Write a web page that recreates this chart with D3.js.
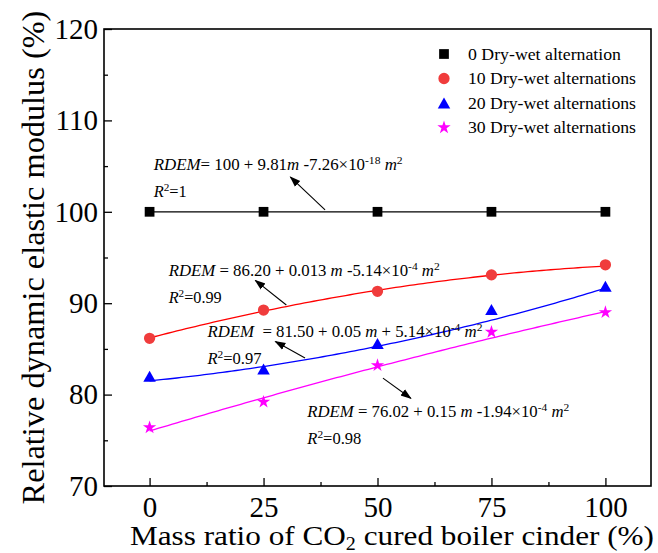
<!DOCTYPE html>
<html>
<head>
<meta charset="utf-8">
<script src="https://cdn.jsdelivr.net/npm/d3@7"></script>
<style>
  body { margin: 0; background: #fff; }
  text { font-family: "Liberation Serif", "Times New Roman", serif; white-space: pre; }
</style>
</head>
<body>
<svg id="chart" width="658" height="553"></svg>
<script>
// Mass ratio of CO2 cured boiler cinder (%)
const massRatio = [0, 25, 50, 75, 100];

// Relative dynamic elastic modulus (%) after each number of dry-wet alternations
const rdem0  = [100, 100, 100, 100, 100];
const rdem10 = [86.16, 89.25, 91.3, 93.1, 94.2];
const rdem20 = [82.0, 82.8, 85.6, 89.3, 91.85];
const rdem30 = [76.4, 79.2, 83.2, 86.85, 89.0];

// Quadratic fits: RDEM = a + b*m + c*m^2
const fit10 = [86.20, 0.13, -5.14e-4];
const fit20 = [81.50, 0.05, 5.14e-4];
const fit30 = [76.02, 0.15, -1.94e-4];

const seriesNames = ["0 Dry-wet alternation", "10 Dry-wet alternations",
                     "20 Dry-wet alternations", "30 Dry-wet alternations"];

const xTicks = [0, 25, 50, 75, 100];
const xMinorTicks = [12.5, 37.5, 62.5, 87.5];
const yTicks = [70, 80, 90, 100, 110, 120];
const yMinorTicks = [75, 85, 95, 105, 115];

const svg = d3.select("#chart");
const x = d3.scaleLinear().domain([-10, 110]).range([104, 651]);
const y = d3.scaleLinear().domain([70, 120]).range([486, 29]);

// stretch a text element to a given width
function fitWidth(sel, w) {
  sel.attr("textLength", w).attr("lengthAdjust", "spacingAndGlyphs");
}

// frame
svg.append("rect")
  .attr("x", x(-10)).attr("y", y(120))
  .attr("width", x(110) - x(-10)).attr("height", y(70) - y(120))
  .attr("fill", "none").attr("stroke", "#000").attr("stroke-width", 1.6);

// axes with inward ticks
const gx = svg.append("g").attr("transform", `translate(0,${y(70)})`)
  .call(d3.axisBottom(x).tickValues(xTicks).tickSizeInner(-8).tickSizeOuter(0).tickPadding(10));
svg.append("g").attr("transform", `translate(0,${y(70)})`)
  .call(d3.axisBottom(x).tickValues(xMinorTicks).tickSizeInner(-4).tickSizeOuter(0).tickFormat(""));
const gy = svg.append("g").attr("transform", `translate(${x(-10)},0)`)
  .call(d3.axisLeft(y).tickValues(yTicks).tickSizeInner(-8).tickSizeOuter(0).tickPadding(6));
svg.append("g").attr("transform", `translate(${x(-10)},0)`)
  .call(d3.axisLeft(y).tickValues(yMinorTicks).tickSizeInner(-4).tickSizeOuter(0).tickFormat(""));

svg.selectAll(".domain").remove();
svg.selectAll(".tick line").attr("stroke", "#000").attr("stroke-width", 1.3);
[gx, gy].forEach(g => g.selectAll("text")
  .attr("font-family", "Liberation Serif, serif").attr("font-size", 29).attr("fill", "#000"));

// axis titles
const xt = svg.append("text")
  .attr("x", 392).attr("y", 545).attr("text-anchor", "middle")
  .attr("font-size", 28).attr("fill", "#000");
xt.append("tspan").text("Mass ratio of CO");
xt.append("tspan").attr("font-size", 18).attr("dy", 5).text("2");
xt.append("tspan").attr("dy", -5).text(" cured boiler cinder (%)");
fitWidth(xt, 524);

// y title: font size chosen so the title spans the wanted length
const yt = svg.append("g")
  .attr("transform", `translate(44,${(y(70) + y(120)) / 2}) rotate(-90)`)
  .append("text")
  .attr("text-anchor", "middle").attr("fill", "#000")
  .style("font-family", "'Liberation Serif', serif").style("font-size", "30px")
  .text("Relative dynamic elastic modulus (%)");
const ytLen = yt.node().getComputedTextLength();
yt.style("font-size", (30 * 494 / ytLen) + "px");

// series
const series = [
  { name: seriesNames[0], values: rdem0,  fit: null,  line: "#000", fill: "#000",    symbol: d3.symbolSquare,   size: 95 },
  { name: seriesNames[1], values: rdem10, fit: fit10, line: "#ff0000", fill: "#f03c3c", symbol: d3.symbolCircle, size: 100 },
  { name: seriesNames[2], values: rdem20, fit: fit20, line: "#0000ff", fill: "#0000ff", symbol: d3.symbolTriangle, size: 75 },
  { name: seriesNames[3], values: rdem30, fit: fit30, line: "#ff00ff", fill: "#ff00ff", symbol: d3.symbolStar,   size: 55 }
];

const line = d3.line().x(d => x(d[0])).y(d => y(d[1]));
const fitSteps = d3.range(0, 100.01, 1);

series.forEach(s => {
  let pts;
  if (s.fit) {
    const [a, b, c] = s.fit;
    pts = fitSteps.map(m => [m, a + b * m + c * m * m]);
  } else {
    pts = massRatio.map((m, i) => [m, s.values[i]]);
  }
  svg.append("path").datum(pts).attr("d", line)
    .attr("fill", "none").attr("stroke", s.line).attr("stroke-width", 1.3);
});

// triangles are drawn centred on their bounding box
function markerPath(s) {
  if (s.symbol === d3.symbolTriangle) {
    const h = 11, w = 12.5;
    return `M0,${-h / 2}L${w / 2},${h / 2}L${-w / 2},${h / 2}Z`;
  }
  return d3.symbol(s.symbol, s.size)();
}

series.forEach(s => {
  svg.append("g").selectAll("path")
    .data(massRatio.map((m, i) => [m, s.values[i]]))
    .join("path")
    .attr("transform", d => `translate(${x(d[0])},${y(d[1])})`)
    .attr("d", markerPath(s))
    .attr("fill", s.fill);
});

// legend
const legendWidths = [153, 168, 168, 168];
series.forEach((s, i) => {
  const ly = 54 + i * 24.5;
  svg.append("path")
    .attr("transform", `translate(444,${ly})`)
    .attr("d", markerPath(s)).attr("fill", s.fill);
  const t = svg.append("text").attr("x", 468).attr("y", ly + 5.5)
    .attr("font-size", 16).attr("fill", "#000").text(s.name);
  fitWidth(t, legendWidths[i]);
});

// fit equations with arrows (positions in data units)
const equations = [
  { at: [0.9, 104.6], width: 249, parts: [["i", "RDEM"], ["", "= 100 + 9.81"], ["i", "m"], ["", " -7.26×10"], ["s", "-18"], ["", " "], ["i", "m"], ["s", "2"]],
    r2: "=1", r2Width: 33, r2At: 101.65, arrow: [[38.5, 100.2], [30.9, 103.8]] },
  { at: [4.2, 93.0], width: 271, parts: [["i", "RDEM"], ["", " = 86.20 + 0.013 "], ["i", "m"], ["", " -5.14×10"], ["s", "-4"], ["", " "], ["i", "m"], ["s", "2"]],
    r2: "=0.99", r2Width: 53, r2At: 90.0, arrow: [[30.0, 89.8], [23.2, 92.5]] },
  { at: [12.7, 86.3], width: 275, parts: [["i", "RDEM"], ["", "  = 81.50 + 0.05 "], ["i", "m"], ["", " + 5.14×10"], ["s", "-4"], ["", " "], ["i", "m"], ["s", "2"]],
    r2: "=0.97", r2Width: 54, r2At: 83.3, arrow: [[34.1, 84.0], [27.6, 85.8]] },
  { at: [34.6, 77.55], width: 262, parts: [["i", "RDEM"], ["", " = 76.02 + 0.15 "], ["i", "m"], ["", " -1.94×10"], ["s", "-4"], ["", " "], ["i", "m"], ["s", "2"]],
    r2: "=0.98", r2Width: 54, r2At: 74.6, arrow: [[51.2, 81.8], [57.3, 79.6]] }
];

svg.append("defs").append("marker")
  .attr("id", "head").attr("viewBox", "0 0 10 10")
  .attr("refX", 9).attr("refY", 5)
  .attr("markerWidth", 11).attr("markerHeight", 11)
  .attr("markerUnits", "userSpaceOnUse").attr("orient", "auto")
  .append("path").attr("d", "M0,1.5L10,5L0,8.5Z").attr("fill", "#000");

function writeParts(t, parts) {
  let raised = false;
  parts.forEach(([kind, str]) => {
    const sp = t.append("tspan").text(str);
    if (kind === "i") sp.attr("font-style", "italic");
    if (kind === "s") {
      sp.attr("font-size", 11);
      if (!raised) { sp.attr("dy", -6); raised = true; }
    } else if (raised) {
      sp.attr("dy", 6); raised = false;
    }
  });
}

equations.forEach(e => {
  const t = svg.append("text").attr("x", x(e.at[0])).attr("y", y(e.at[1]))
    .attr("font-size", 16).attr("fill", "#000");
  writeParts(t, e.parts);
  fitWidth(t, e.width);

  const r = svg.append("text").attr("x", x(e.at[0])).attr("y", y(e.r2At))
    .attr("font-size", 16).attr("fill", "#000");
  writeParts(r, [["i", "R"], ["s", "2"], ["", e.r2]]);
  fitWidth(r, e.r2Width);

  svg.append("line")
    .attr("x1", x(e.arrow[0][0])).attr("y1", y(e.arrow[0][1]))
    .attr("x2", x(e.arrow[1][0])).attr("y2", y(e.arrow[1][1]))
    .attr("stroke", "#000").attr("stroke-width", 1.1)
    .attr("marker-end", "url(#head)");
});
</script>
</body>
</html>
